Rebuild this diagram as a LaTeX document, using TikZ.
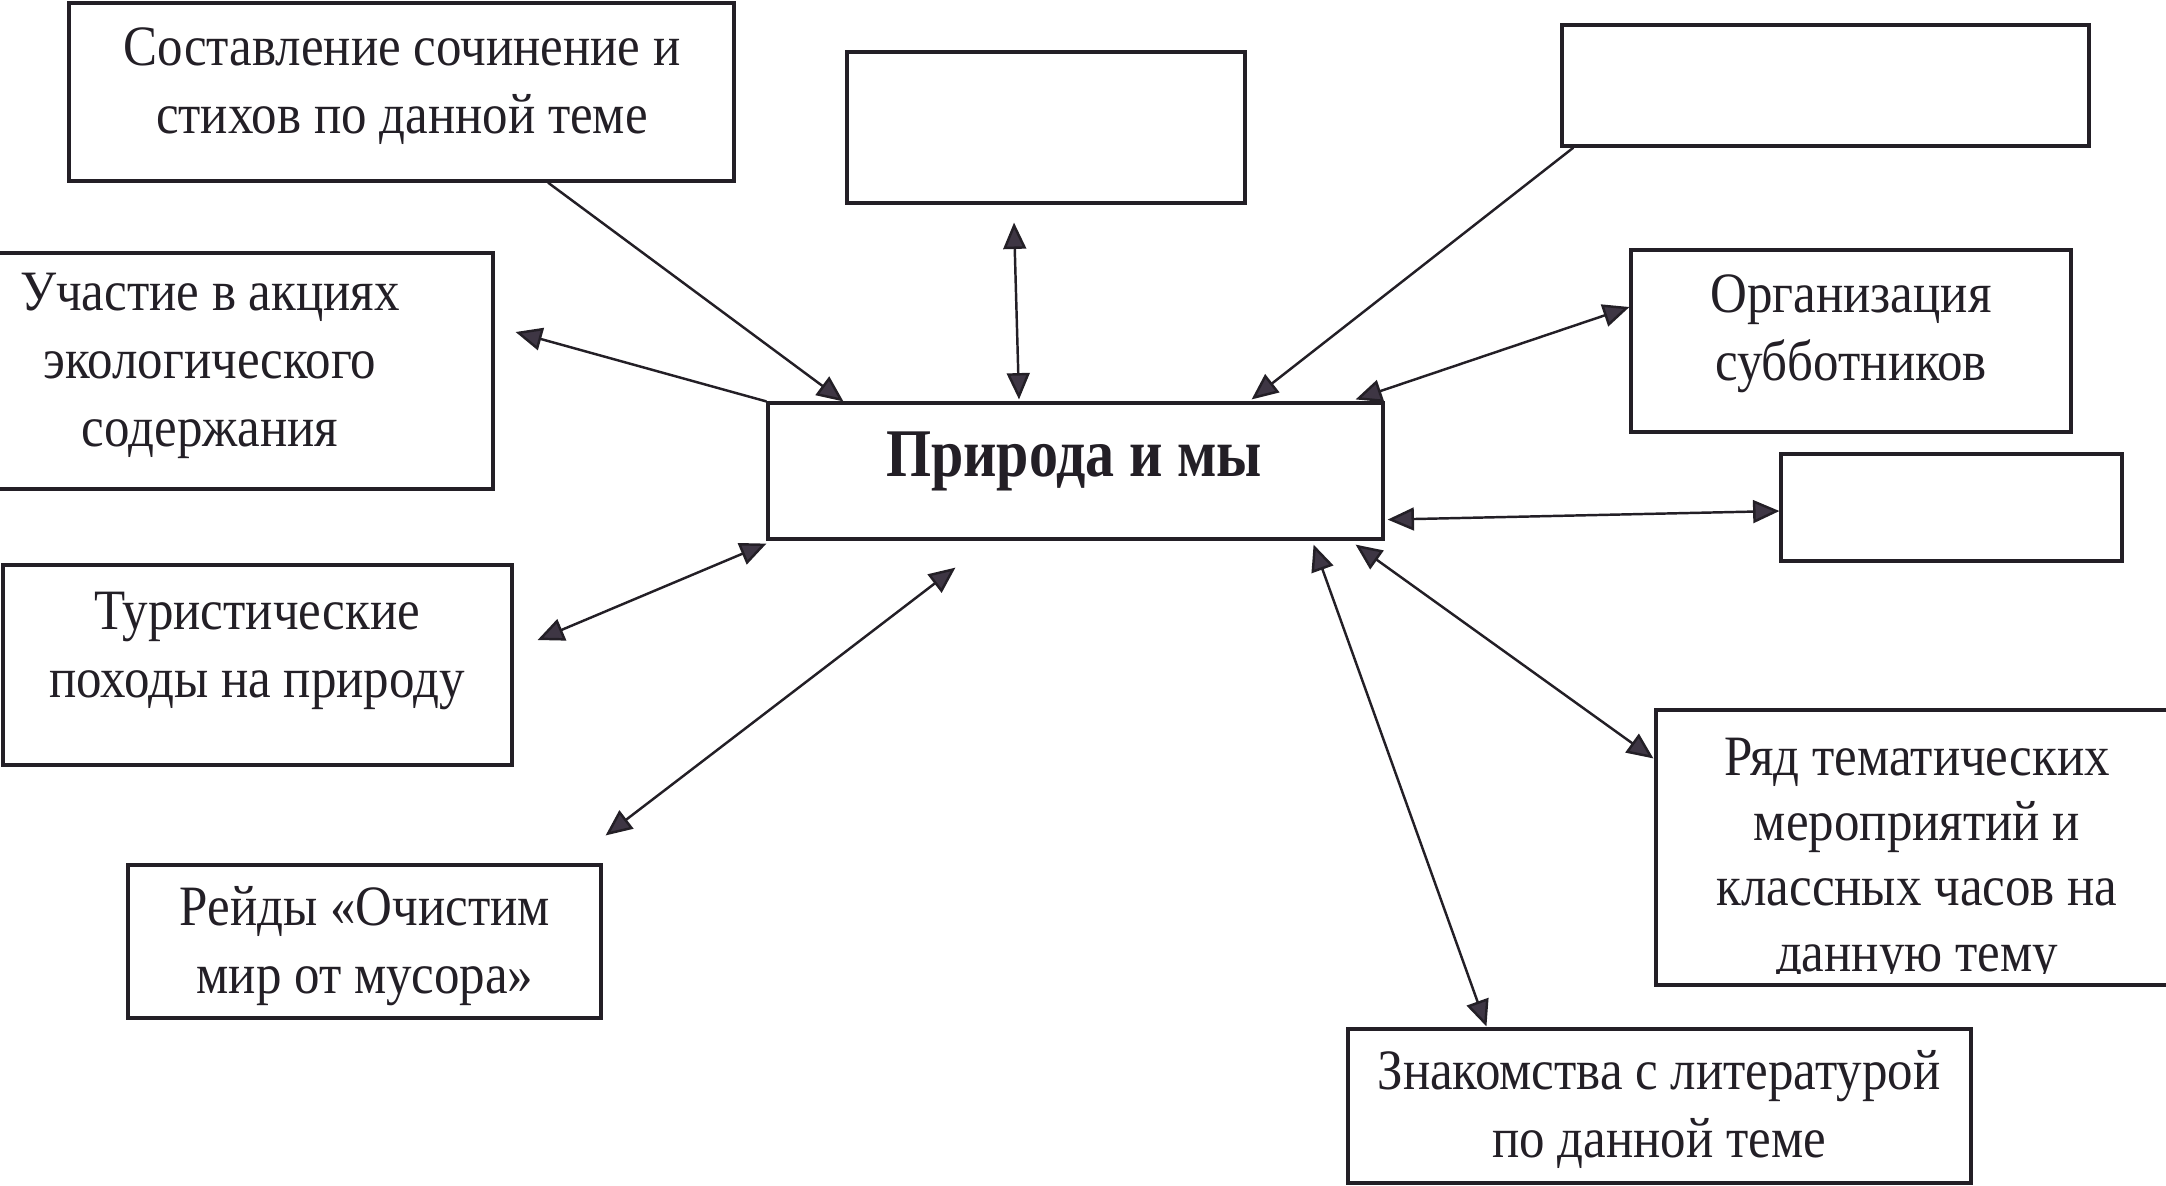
\documentclass[tikz,border=0pt]{standalone}
\usepackage{fontspec}
\setmainfont{Liberation Serif}
\usetikzlibrary{arrows.meta}
\definecolor{ink}{RGB}{35,31,38}
\definecolor{tip}{RGB}{62,54,68}
\tikzset{
  frame/.style={draw=ink, line width=0.9pt, inner sep=0pt},
  txt/.style={align=center, inner sep=0pt, text=ink, yscale=1.12, font={\fontsize{14.5}{17.3}\selectfont}},
  link/.style={draw=ink, line width=0.7pt},
  oneway/.style={link, -{Triangle[length=7.5pt, width=6.5pt, fill=tip]}},
  twoway/.style={link, {Triangle[length=7.5pt, width=6.5pt, fill=tip]}-{Triangle[length=7.5pt, width=6.5pt, fill=tip]}},
}
\begin{document}
\begin{tikzpicture}
\useasboundingbox (0,0) rectangle (21.66,-11.85);

% Boxes
\node[frame, minimum width=6.15cm, minimum height=1.36cm] (priroda) at (10.755,-4.71) {};
\node[frame, minimum width=6.65cm, minimum height=1.78cm] (sochin) at (4.015,-0.92) {};
\node[frame, minimum width=3.98cm, minimum height=1.51cm] (empty1) at (10.46,-1.275) {};
\node[frame, minimum width=5.27cm, minimum height=1.21cm] (empty2) at (18.255,-0.855) {};
\node[frame, minimum width=5.63cm, minimum height=2.36cm] (akcii) at (2.115,-3.71) {};
\node[frame, minimum width=4.40cm, minimum height=1.82cm] (subbot) at (18.51,-3.41) {};
\node[frame, minimum width=3.41cm, minimum height=1.07cm] (empty3) at (19.515,-5.075) {};
\node[frame, minimum width=5.09cm, minimum height=2.00cm] (turizm) at (2.575,-6.65) {};
\node[frame, minimum width=4.73cm, minimum height=1.53cm] (reid) at (3.645,-9.415) {};
\node[frame, minimum width=5.22cm, minimum height=2.75cm] (ryad) at (19.17,-8.475) {};
\node[frame, minimum width=6.23cm, minimum height=1.54cm] (znak) at (16.595,-11.06) {};

% Texts
\node[txt, yscale=1.05, font={\fontsize{16.5}{20}\selectfont\bfseries}] (priroda-t) at (10.74,-4.61) {Природа и мы};
\node[txt] (sochin-t) at (4.02,-0.86) {Составление сочинение и\\стихов по данной теме};
\node[txt] (akcii-t) at (2.10,-3.66) {Участие в акциях\\экологического\\содержания};
\node[txt] (subbot-t) at (18.51,-3.34) {Организация\\субботников};
\node[txt] (turizm-t) at (2.57,-6.51) {Туристические\\походы на природу};
\node[txt] (reid-t) at (3.65,-9.46) {Рейды «Очистим\\мир от мусора»};
\node[txt] (znak-t) at (16.59,-11.09) {Знакомства с литературой\\по данной теме};
\begin{scope}
  \clip (ryad.north west) rectangle ([yshift=0.13cm]ryad.south east);
  \node[txt, anchor=north, font={\fontsize{14.5}{16.6}\selectfont}] (ryad-t) at (19.17,-7.37) {Ряд тематических\\мероприятий и\\классных часов на\\данную тему};
\end{scope}

% Arrows
\draw[oneway] ([xshift=1.465cm]sochin.south) -- ([xshift=0.77cm]priroda.north west);
\draw[twoway] ([xshift=-0.32cm,yshift=-0.18cm]empty1.south) -- ([xshift=-0.565cm,yshift=0.02cm]priroda.north);
\draw[oneway] ([xshift=0.13cm]empty2.south west) -- ([xshift=-1.33cm,yshift=0.02cm]priroda.north east);
\draw[oneway] (priroda.north west) -- ([xshift=0.21cm,yshift=0.39cm]akcii.east);
\draw[twoway] ([xshift=-0.29cm,yshift=0.02cm]priroda.north east) -- ([yshift=0.34cm]subbot.west);
\draw[twoway] ([xshift=0.03cm,yshift=0.21cm]priroda.south east) -- ([yshift=-0.035cm]empty3.west);
\draw[twoway] ([yshift=-0.03cm]priroda.south west) -- ([xshift=0.24cm,yshift=0.25cm]turizm.east);
\draw[twoway] ([xshift=1.89cm,yshift=-0.27cm]priroda.south west) -- ([xshift=0.03cm,yshift=0.28cm]reid.north east);
\draw[twoway] ([xshift=-0.71cm,yshift=-0.04cm]priroda.south east) -- ([xshift=1.40cm,yshift=0.01cm]znak.north west);
\draw[twoway] ([xshift=-0.29cm,yshift=-0.04cm]priroda.south east) -- ([xshift=-0.01cm,yshift=-0.50cm]ryad.north west);
\end{tikzpicture}
\end{document}
